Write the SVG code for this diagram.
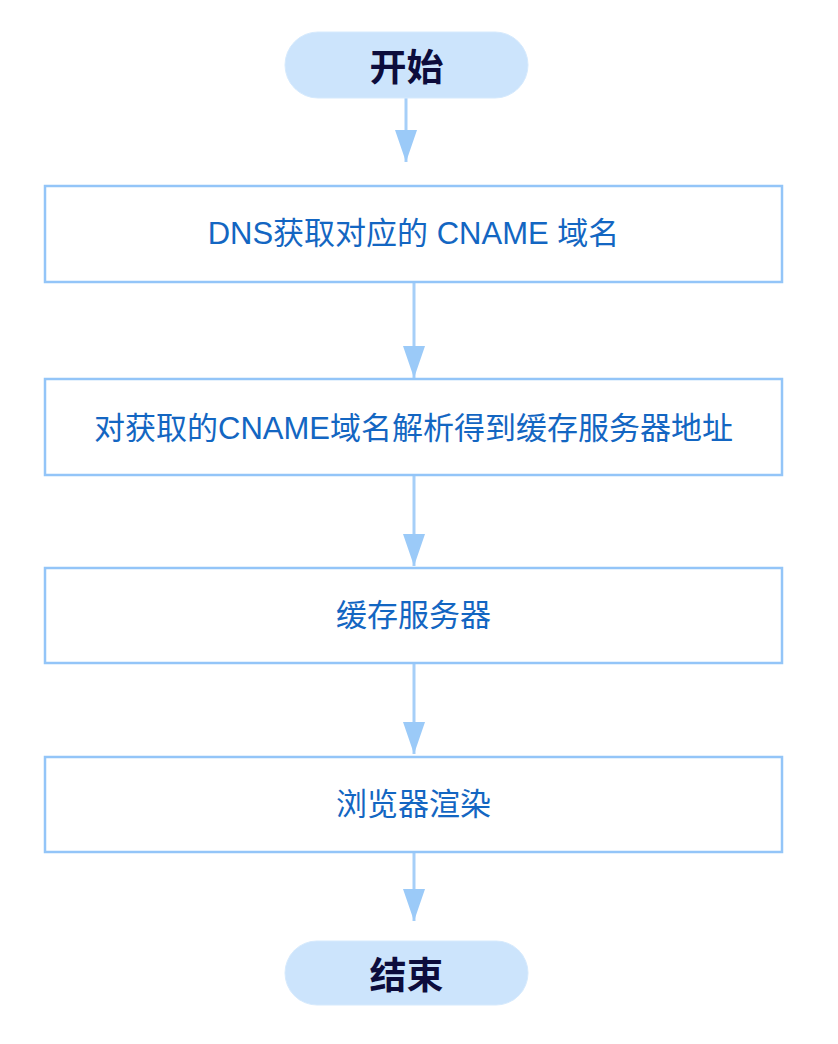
<svg xmlns="http://www.w3.org/2000/svg" width="838" height="1044" viewBox="0 0 838 1044">
<style>
.pill{fill:#cce4fc;stroke:#d6eafd;stroke-width:1}
.box{fill:#ffffff;stroke:#93c5f8;stroke-width:2.5}
.tpill{font-family:"Noto Sans CJK SC","Liberation Sans",sans-serif;font-size:37px;font-weight:bold;fill:#0c0c3c;text-anchor:middle;dominant-baseline:central}
.tbox{font-family:"Liberation Sans","Noto Sans CJK SC",sans-serif;font-size:31px;fill:#1366c2;text-anchor:middle;dominant-baseline:central}
.conn{stroke:#a6cff8;stroke-width:3;fill:none;marker-end:url(#ah)}
</style>
<defs>
<marker id="ah" markerUnits="userSpaceOnUse" viewBox="0 0 32 22" refX="32" refY="11" markerWidth="32" markerHeight="22" orient="auto">
<path d="M0,0 L32,11 L0,22 Z" fill="#9bcaf8"/>
</marker>
</defs>
<rect width="838" height="1044" fill="#ffffff"/>
<g id="connectors">
<line class="conn" x1="406" y1="98" x2="406" y2="162"/>
<line class="conn" x1="414" y1="283" x2="414" y2="378"/>
<line class="conn" x1="414" y1="476" x2="414" y2="566"/>
<line class="conn" x1="414" y1="664" x2="414" y2="754"/>
<line class="conn" x1="414" y1="853" x2="414" y2="921"/>
</g>
<g id="start">
<rect class="pill" x="285" y="32" width="243" height="66" rx="33"/>
<text class="tpill" x="406.5" y="65">开始</text>
</g>
<g id="n1">
<rect class="box" x="45" y="186" width="737" height="96"/>
<text class="tbox" x="413.5" y="233">DNS获取对应的 CNAME 域名</text>
</g>
<g id="n2">
<rect class="box" x="45" y="379" width="737" height="96"/>
<text class="tbox" x="413.5" y="428">对获取的CNAME域名解析得到缓存服务器地址</text>
</g>
<g id="n3">
<rect class="box" x="45" y="568" width="737" height="95"/>
<text class="tbox" x="413.5" y="615">缓存服务器</text>
</g>
<g id="n4">
<rect class="box" x="45" y="757" width="737" height="95"/>
<text class="tbox" x="413.5" y="804">浏览器渲染</text>
</g>
<g id="end">
<rect class="pill" x="285" y="941" width="243" height="64" rx="32"/>
<text class="tpill" x="406.5" y="973">结束</text>
</g>
</svg>
